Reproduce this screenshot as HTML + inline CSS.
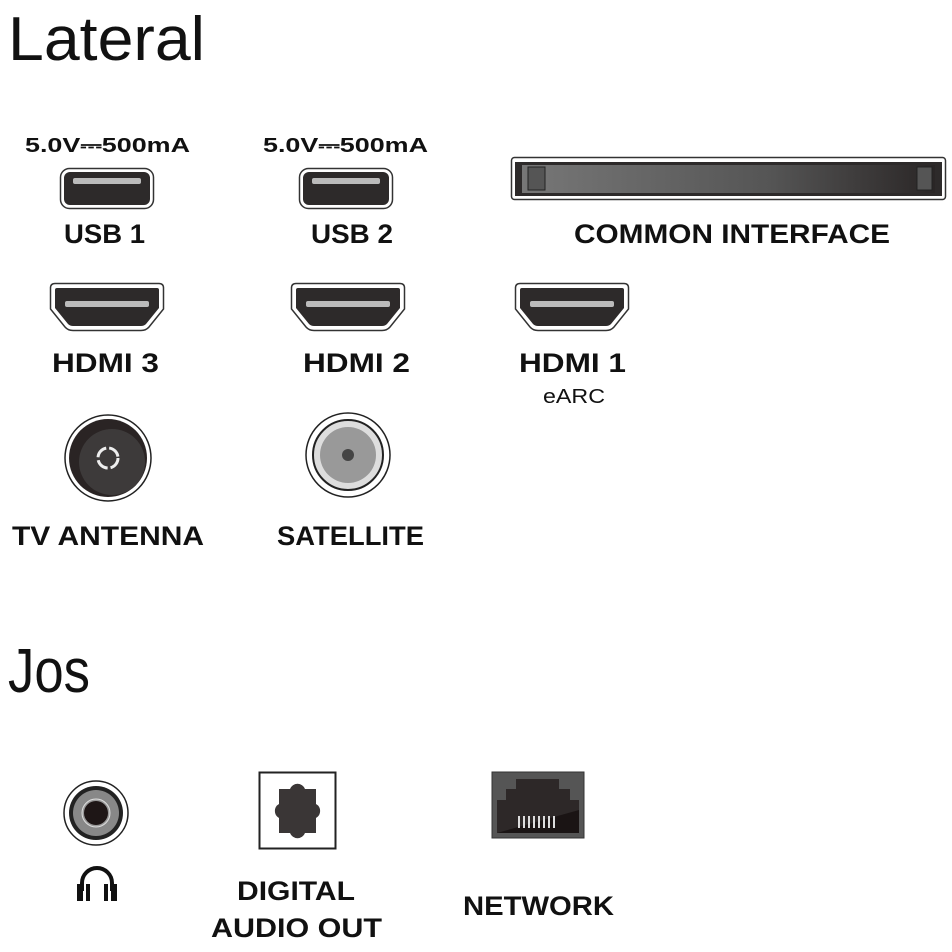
<!DOCTYPE html>
<html><head><meta charset="utf-8"><style>
html,body{margin:0;padding:0;background:#fff}
svg{display:block}
text{font-family:"Liberation Sans",sans-serif;fill:#111}
.b{font-weight:bold}
</style></head><body>
<svg width="952" height="952" viewBox="0 0 952 952" xmlns="http://www.w3.org/2000/svg">
<defs>
<linearGradient id="ci" x1="0" y1="0" x2="1" y2="0">
<stop offset="0" stop-color="#777"/><stop offset="0.6" stop-color="#555"/><stop offset="1" stop-color="#2a2626"/>
</linearGradient>
<g id="usb">
<rect x="0.5" y="0.5" width="93" height="40" rx="9" fill="#fff" stroke="#333" stroke-width="1.5"/>
<rect x="4" y="4" width="86" height="33" rx="6" fill="#2d2a2a"/>
<rect x="13" y="10" width="68" height="6" rx="2" fill="#bbb"/>
</g>
<g id="hdmi">
<path d="M5,0.5 H109 Q113.5,0.5 113.5,5 V26 L99,44 Q96,47.5 91,47.5 H23 Q18,47.5 15,44 L0.5,26 V5 Q0.5,0.5 5,0.5Z" fill="#fff" stroke="#333" stroke-width="1.5"/>
<path d="M7,5 H107 Q109,5 109,7 V25 L96,41 Q94,43 91,43 H23 Q20,43 18,41 L5,25 V7 Q5,5 7,5Z" fill="#2d2a2a"/>
<rect x="15" y="18" width="84" height="6" rx="2" fill="#bbb"/>
</g>
</defs>

<text x="8" y="60" font-size="62" textLength="197" lengthAdjust="spacingAndGlyphs">Lateral</text>

<text x="25" y="152" font-size="20" class="b" textLength="165" lengthAdjust="spacingAndGlyphs">5.0V⎓500mA</text>
<text x="263" y="152" font-size="20" class="b" textLength="165" lengthAdjust="spacingAndGlyphs">5.0V⎓500mA</text>

<use href="#usb" x="60" y="168"/>
<use href="#usb" x="299" y="168"/>
<text x="64" y="243" font-size="27" class="b" textLength="81" lengthAdjust="spacingAndGlyphs">USB 1</text>
<text x="311" y="243" font-size="27" class="b" textLength="82" lengthAdjust="spacingAndGlyphs">USB 2</text>

<rect x="511.5" y="157.5" width="434" height="42" rx="3" fill="#fff" stroke="#333" stroke-width="1.5"/>
<rect x="515" y="162" width="427" height="34" fill="#2d2a2a"/>
<path d="M522,165 H935 V193 H522Z" fill="url(#ci)"/>
<path d="M528,167 H545 V190 H528Z M917,167 H932 V190 H917Z" fill="#555" stroke="#222" stroke-width="1"/>
<text x="574" y="243" font-size="27" class="b" textLength="316" lengthAdjust="spacingAndGlyphs">COMMON INTERFACE</text>

<use href="#hdmi" x="50" y="283"/>
<use href="#hdmi" x="291" y="283"/>
<use href="#hdmi" x="515" y="283"/>
<text x="52" y="372" font-size="27" class="b" textLength="107" lengthAdjust="spacingAndGlyphs">HDMI 3</text>
<text x="303" y="372" font-size="27" class="b" textLength="107" lengthAdjust="spacingAndGlyphs">HDMI 2</text>
<text x="519" y="372" font-size="27" class="b" textLength="107" lengthAdjust="spacingAndGlyphs">HDMI 1</text>
<text x="543" y="403" font-size="20" textLength="62" lengthAdjust="spacingAndGlyphs">eARC</text>

<circle cx="108" cy="458" r="43" fill="#fff" stroke="#222" stroke-width="1.5"/>
<circle cx="108" cy="458" r="39" fill="#2a2424"/>
<circle cx="112" cy="462" r="33" fill="#3d3a3a"/>
<circle cx="108" cy="458" r="10" fill="none" stroke="#eee" stroke-width="3" stroke-dasharray="13 3"/>
<text x="12" y="545" font-size="27" class="b" textLength="192" lengthAdjust="spacingAndGlyphs">TV ANTENNA</text>

<circle cx="348" cy="455" r="42" fill="#fff" stroke="#222" stroke-width="1.5"/>
<circle cx="348" cy="455" r="35" fill="#ddd" stroke="#222" stroke-width="2"/>
<circle cx="348" cy="455" r="28" fill="#999"/>
<circle cx="348" cy="455" r="6" fill="#444"/>
<text x="277" y="545" font-size="27" class="b" textLength="147" lengthAdjust="spacingAndGlyphs">SATELLITE</text>

<text x="8" y="692" font-size="62" textLength="82" lengthAdjust="spacingAndGlyphs">Jos</text>

<circle cx="96" cy="813" r="32" fill="#fff" stroke="#222" stroke-width="1.5"/>
<circle cx="96" cy="813" r="27" fill="#222"/>
<circle cx="96" cy="813" r="23" fill="#888"/>
<circle cx="96" cy="813" r="14" fill="#999" stroke="#ddd" stroke-width="1"/>
<circle cx="96" cy="813" r="12" fill="#1e1616"/>
<path d="M82,891 V883 A15,15 0 0 1 112,883 V891" fill="none" stroke="#111" stroke-width="4"/>
<rect x="77" y="884" width="6" height="17" fill="#111"/><rect x="86" y="884" width="4" height="17" fill="#111"/>
<rect x="111" y="884" width="6" height="17" fill="#111"/><rect x="104" y="884" width="4" height="17" fill="#111"/>

<rect x="259.5" y="772.5" width="76" height="76" fill="#fff" stroke="#222" stroke-width="2"/>
<path d="M279,789 H290 A8,8 0 0 1 305,789 H316 V804 A8,8 0 0 1 316,818 V833 H305 A8,8 0 0 1 290,833 H279 V818 A8,8 0 0 1 279,804Z" fill="#3a3636"/>
<text x="237" y="900" font-size="27" class="b" textLength="118" lengthAdjust="spacingAndGlyphs">DIGITAL</text>
<text x="211" y="937" font-size="27" class="b" textLength="171" lengthAdjust="spacingAndGlyphs">AUDIO OUT</text>

<rect x="492" y="772" width="92" height="66" fill="#555" stroke="#333" stroke-width="1"/>
<path d="M497,800 H506 V789 H516 V779 H559 V789 H570 V800 H579 V833 H497Z" fill="#2d2828"/>
<path d="M497,833 H579 V810 Z" fill="#1a1414"/>
<g fill="#ddd"><rect x="518" y="816" width="2" height="12"/><rect x="523" y="816" width="2" height="12"/><rect x="528" y="816" width="2" height="12"/><rect x="533" y="816" width="2" height="12"/><rect x="538" y="816" width="2" height="12"/><rect x="543" y="816" width="2" height="12"/><rect x="548" y="816" width="2" height="12"/><rect x="553" y="816" width="2" height="12"/></g>
<text x="463" y="915" font-size="27" class="b" textLength="151" lengthAdjust="spacingAndGlyphs">NETWORK</text>
</svg>
</body></html>
